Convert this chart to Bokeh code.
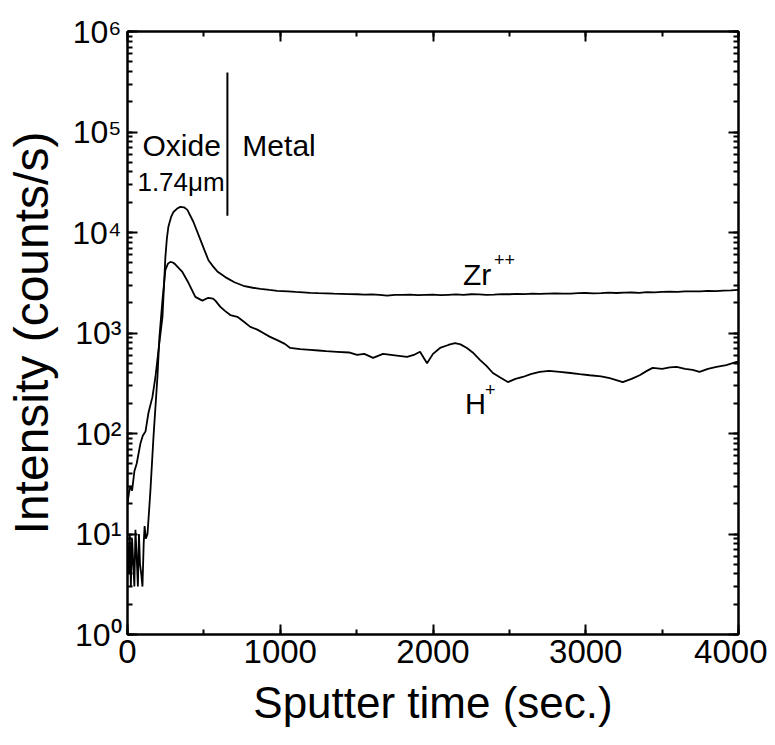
from bokeh.plotting import figure
from bokeh.models import (LogAxis, LinearAxis, SingleIntervalTicker, LogTicker,
                          CustomJSTickFormatter, Range1d)
from bokeh.core.properties import value
from bokeh.embed import file_html
from bokeh.resources import INLINE

# ---------------- data ----------------
zr_x = [0, 10, 20, 30, 45, 60, 85, 100, 118, 137, 163, 183, 203, 229, 240, 248, 258, 268,
        285, 301, 325, 346, 370, 392, 431, 477, 505, 530, 560, 588, 640, 700, 758, 820, 869, 930, 980,
        1050, 1100, 1150, 1196, 1250, 1300, 1350, 1400, 1450, 1503, 1550, 1600,
        1650, 1700, 1750, 1800, 1850, 1900, 1950, 2000, 2050, 2100, 2150, 2200,
        2250, 2300, 2350, 2400, 2450, 2500, 2550, 2600, 2650, 2700, 2750, 2800,
        2850, 2900, 2950, 3000, 3050, 3100, 3150, 3200, 3250, 3300, 3350, 3400,
        3450, 3500, 3550, 3600, 3650, 3700, 3750, 3800, 3850, 3900, 3950, 4000]
zr_y = [20, 26, 30, 27, 42, 50, 80, 95, 105, 160, 230, 365, 680, 1450, 3200, 5700, 8800, 11500,
        14200, 16000, 17300, 18000, 17800, 16800, 12800, 8500, 6600, 5300, 4600, 4100, 3600, 3200, 2950, 2820, 2750, 2680, 2630,
        2590, 2560, 2540, 2510, 2490, 2480, 2460, 2450, 2440, 2430, 2410, 2420,
        2390, 2350, 2400, 2390, 2410, 2380, 2400, 2410, 2380, 2400, 2420, 2400,
        2430, 2420, 2400, 2410, 2440, 2430, 2450, 2440, 2470, 2450, 2470, 2480,
        2460, 2470, 2490, 2500, 2480, 2490, 2520, 2500, 2520, 2530, 2510, 2550,
        2540, 2560, 2580, 2570, 2590, 2600, 2590, 2620, 2610, 2640, 2650, 2680]

h_x = [0, 8, 15, 22, 30, 38, 45, 52, 60, 68, 75, 82, 90, 98, 106, 112, 120, 131,
       150, 170, 196, 209, 229, 248, 265, 281, 300, 314, 359, 399, 444, 490, 529, 560,
       575, 608, 640, 673, 719, 760, 804, 850, 889, 930, 980, 1030, 1065, 1130,
       1196, 1250, 1300, 1373, 1450, 1503, 1550, 1608, 1673, 1750, 1830, 1880,
       1915, 1961, 2000, 2046, 2100, 2144, 2180, 2222, 2260, 2307, 2350, 2392,
       2440, 2490, 2540, 2588, 2640, 2699, 2760, 2830, 2900, 2960, 3026, 3100,
       3157, 3200, 3242, 3300, 3353, 3400, 3438, 3500, 3550, 3595, 3650, 3700,
       3745, 3800, 3856, 3920, 3987, 4000]
h_y = [8, 4, 10, 3, 9, 5, 3, 11, 6, 3, 10, 5, 4, 3, 8, 12, 9, 10,
       27, 92, 365, 910, 2140, 4250, 4900, 5100, 5000, 4800, 4050, 3160, 2290, 2100, 2240, 2200,
       2100, 1820, 1650, 1510, 1450, 1300, 1150, 1080, 1000, 920, 850, 780, 710, 690,
       680, 670, 660, 650, 640, 605, 620, 565, 620, 600, 580, 610,
       650, 500, 620, 710, 760, 795, 770, 710, 640, 540, 470, 400,
       360, 325, 350, 365, 390, 410, 420, 410, 400, 390, 380, 370,
       355, 340, 325, 350, 380, 420, 450, 440, 455, 460, 440, 430,
       410, 440, 460, 480, 515, 520]

x_range = (0, 4000)
y_range = (1, 1e6)

# annotation texts and their anchor positions (data units)
oxide_label = "Oxide"
metal_label = "Metal"
thick_label = "1.74\u03bcm"
boundary_x = 654
boundary_y = (14700, 390000)

F = "Liberation Sans"

p = figure(width=767, height=737, output_backend="svg", toolbar_location=None,
           y_axis_type="log", x_range=Range1d(*x_range), y_range=Range1d(*y_range),
           min_border_left=127, min_border_right=29, min_border_top=31,
           min_border_bottom=103)
p.xgrid.visible = False
p.ygrid.visible = False
p.outline_line_color = "black"
p.outline_line_width = 2
p.background_fill_color = "white"
p.border_fill_color = "white"

sup = CustomJSTickFormatter(code="""
const s = {'0':'\u2070','1':'\u00b9','2':'\u00b2','3':'\u00b3','4':'\u2074','5':'\u2075','6':'\u2076','7':'\u2077','8':'\u2078','9':'\u2079','-':'\u207b'};
const e = Math.round(Math.log10(tick)).toString();
return '10' + e.split('').map(c => s[c]).join('');
""")
blank = CustomJSTickFormatter(code="return '';")

def style(ax):
    ax.axis_line_width = 2
    ax.major_tick_line_width = 2
    ax.minor_tick_line_width = 2
    ax.major_tick_in = 10
    ax.major_tick_out = 0
    ax.minor_tick_in = 5
    ax.minor_tick_out = 0
    ax.major_label_text_font = F
    ax.axis_label_text_font = F
    ax.axis_label_text_font_style = "normal"
    ax.major_label_text_color = "black"
    ax.axis_label_text_color = "black"

xa = p.xaxis[0]
xa.ticker = SingleIntervalTicker(interval=1000, num_minor_ticks=2)
style(xa)
xa.major_label_text_font_size = "33px"
xa.major_label_standoff = 5
xa.axis_label = "Sputter time (sec.)"
xa.axis_label_text_font_size = "44px"
xa.axis_label_standoff = 12

ya = p.yaxis[0]
ya.ticker = LogTicker(num_minor_ticks=10)
ya.formatter = sup
style(ya)
ya.major_label_text_font_size = "32px"
ya.major_label_standoff = 6
ya.axis_label = "Intensity (counts/s)"
ya.axis_label_text_font_size = "48px"
ya.axis_label_standoff = 11

ra = LogAxis(ticker=LogTicker(num_minor_ticks=10), formatter=blank)
style(ra)
p.add_layout(ra, "right")
ta = LinearAxis(ticker=SingleIntervalTicker(interval=1000, num_minor_ticks=2),
                formatter=blank)
style(ta)
p.add_layout(ta, "above")

p.line(zr_x, zr_y, line_color="black", line_width=1.8)
p.line(h_x, h_y, line_color="black", line_width=1.8)

# boundary line
p.segment(x0=[boundary_x], y0=[boundary_y[0]], x1=[boundary_x], y1=[boundary_y[1]],
          line_color="black", line_width=2)

# annotations
p.text(x=[98], y=[73600], text=[oxide_label], text_font=value(F), text_font_size="30px",
       text_baseline="alphabetic", text_color="black")
p.text(x=[752], y=[73600], text=[metal_label], text_font=value(F), text_font_size="30px",
       text_baseline="alphabetic", text_color="black")
p.text(x=[65], y=[31500], text=[thick_label], text_font=value(F), text_font_size="26px",
       text_baseline="alphabetic", text_color="black")

p.text(x=[2196], y=[3800], text=["Zr"], text_font=value(F), text_font_size="30px",
       text_baseline="alphabetic", text_color="black")
p.text(x=[2196], y=[3800], text=["++"], text_font=value(F), text_font_size="18px",
       text_baseline="alphabetic", text_color="black", x_offset=31, y_offset=-15)
p.text(x=[2209], y=[196], text=["H"], text_font=value(F), text_font_size="29px",
       text_baseline="alphabetic", text_color="black")
p.text(x=[2209], y=[196], text=["+"], text_font=value(F), text_font_size="18px",
       text_baseline="alphabetic", text_color="black", x_offset=20, y_offset=-15)

open("out.html", "w").write(file_html(p, INLINE))
